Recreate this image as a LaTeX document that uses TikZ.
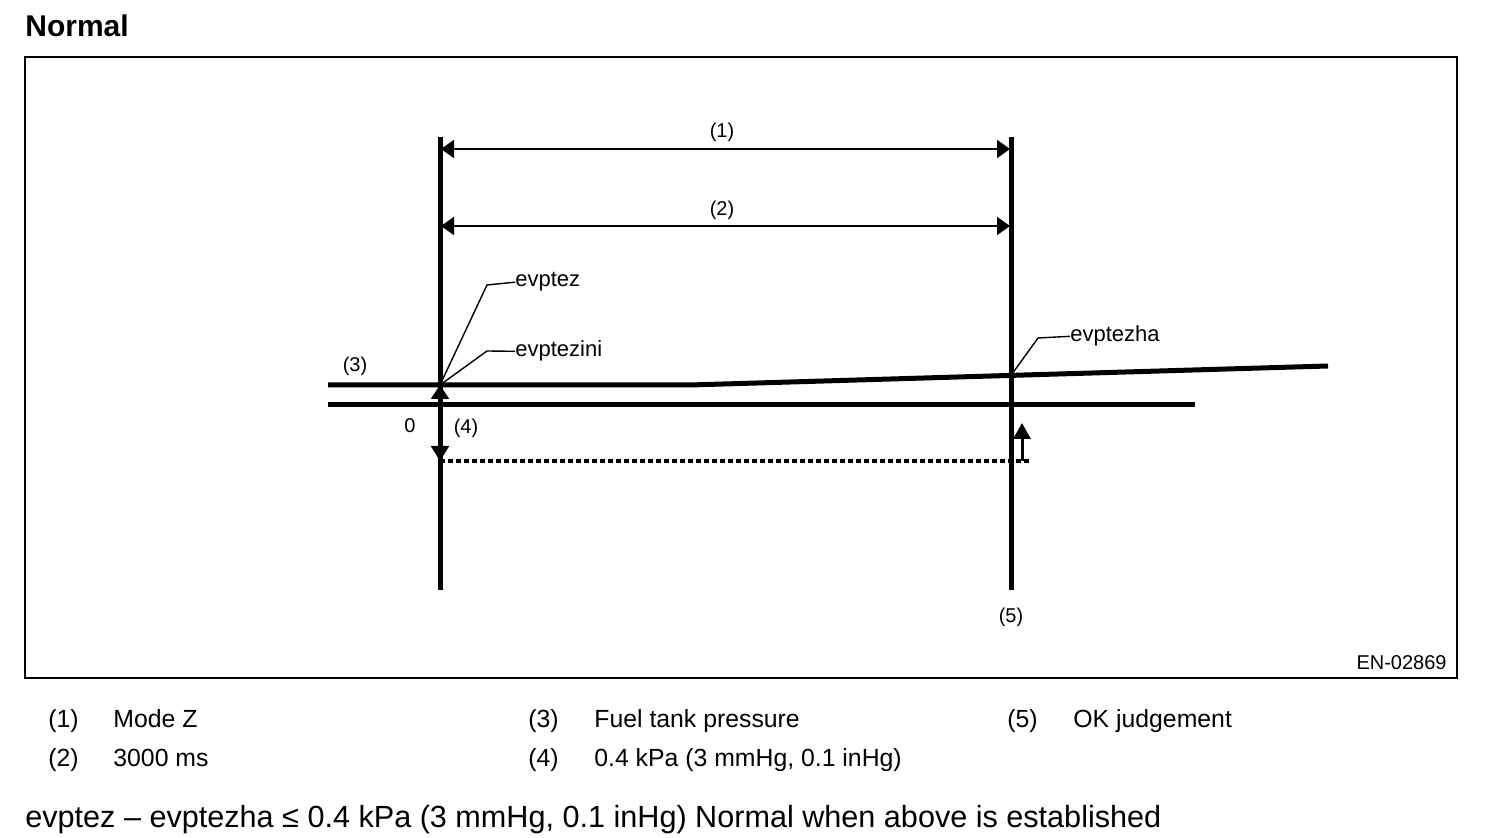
\documentclass[tikz,border=0pt]{standalone}
\usepackage{fontspec}
\setmainfont{Liberation Sans}
\usetikzlibrary{arrows.meta}

\begin{document}
\begin{tikzpicture}[x=0.5pt,y=-0.5pt,
  heavy/.style={line width=2.5pt},
  dimarrow/.style={line width=1pt,{Triangle[length=6.5pt,width=9pt]}-{Triangle[length=6.5pt,width=9pt]}},
  leader/.style={line width=0.7pt},
  lbl/.style={inner sep=0pt,font=\fontsize{10}{12}\selectfont},
  sig/.style={inner sep=0pt,font=\fontsize{11}{13}\selectfont},
  legend/.style={inner sep=0pt,anchor=base west,font=\fontsize{12.4}{15}\selectfont}]
  \useasboundingbox (0,0) rectangle (1504,838);

  \node[inner sep=0pt,anchor=base west,font=\fontsize{15}{18}\selectfont\bfseries] (title) at (25,37) {Normal};
  \draw[line width=1pt] (25,57) rectangle (1457,678);
  \node[lbl,anchor=base east] (code) at (1447,670) {EN-02869};

  % time marks
  \coordinate (ltop) at (440,137);  \coordinate (lbot) at (440,590);
  \coordinate (rtop) at (1011,137); \coordinate (rbot) at (1011,590);
  \draw[heavy] (ltop) -- (lbot);
  \draw[heavy] (rtop) -- (rbot);
  \node[lbl,anchor=base] (n5) at (1011,623) {(5)};

  % (1) and (2)
  \coordinate (a1) at (441,149); \coordinate (b1) at (1010,149);
  \coordinate (a2) at (441,226); \coordinate (b2) at (1010,226);
  \draw[dimarrow] (a1) -- (b1);
  \draw[dimarrow] (a2) -- (b2);
  \node[lbl,anchor=base] (n1) at (722,138) {(1)};
  \node[lbl,anchor=base] (n2) at (722,216) {(2)};

  % pressure lines
  \coordinate (p0) at (328,385); \coordinate (pz) at (440,385);
  \coordinate (pk) at (690,385); \coordinate (pha) at (1011,375.4);
  \coordinate (pend) at (1328,366);
  \draw[heavy] (p0) -- (pz) -- (pk) -- (pha) -- (pend);
  \coordinate (z0) at (328,405); \coordinate (z1) at (1195,405);
  \draw[heavy] (z0) -- (z1);
  \node[lbl,anchor=base] (n3) at (355,372) {(3)};
  \node[lbl,anchor=base] (zero) at (410,433) {0};
  \node[lbl,anchor=base] (n4) at (466,434) {(4)};

  % (4) band
  \coordinate (d0) at (440,461); \coordinate (d1) at (1030,461);
  \draw[line width=2.2pt,dash pattern=on 2.6pt off 1.4pt] (d0) -- (d1);
  \draw[line width=1pt,{Triangle[length=7pt,width=9pt]}-{Triangle[length=7.5pt,width=9pt]}] (pz) -- (d0);
  \coordinate (s0) at (1022,461); \coordinate (s1) at (1022,423);
  \draw[line width=1.5pt,-{Triangle[length=8pt,width=8.5pt]}] (s0) -- (s1);

  % signal names
  \node[sig,anchor=base west] (ez) at (515,287) {evptez};
  \node[sig,anchor=base west] (ezini) at (515,357) {evptezini};
  \node[sig,anchor=base west] (ezha) at (1070,342) {evptezha};
  \draw[leader] (pz) -- (487,285) -- (ez.west);
  \draw[leader] (pz) -- (487,351) -- (ezini.west);
  \draw[leader] (pha) -- (1038,338) -- (ezha.west);

  % legend
  \node[legend] (k1) at (48,727) {(1)};   \node[legend] (t1) at (113,727) {Mode Z};
  \node[legend] (k2) at (48,766) {(2)};   \node[legend] (t2) at (113,766) {3000 ms};
  \node[legend] (k3) at (528,727) {(3)};  \node[legend] (t3) at (594,727) {Fuel tank pressure};
  \node[legend] (k4) at (528,766) {(4)};  \node[legend] (t4) at (594,766) {0.4 kPa (3 mmHg, 0.1 inHg)};
  \node[legend] (k5) at (1007,727) {(5)}; \node[legend] (t5) at (1073,727) {OK judgement};

  \node[inner sep=0pt,anchor=base west,font=\fontsize{15.3}{18}\selectfont] (cond) at (25,827)
    {evptez – evptezha ≤ 0.4 kPa (3 mmHg, 0.1 inHg) Normal when above is established};
\end{tikzpicture}
\end{document}
